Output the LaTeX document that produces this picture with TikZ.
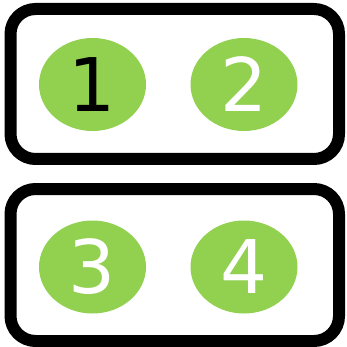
\documentclass[tikz,border=0pt]{standalone}
\usepackage{fontspec}
\newfontfamily\digitfont{DejaVu Sans}
\usetikzlibrary{shapes.geometric}
\definecolor{leafgreen}{HTML}{92D050}

\begin{document}
\begin{tikzpicture}[
    x=1pt, y=-1pt,
    panel/.style={rectangle, draw=black, line width=12pt, rounded corners=25pt,
        minimum width=328.5pt, inner sep=0pt},
    slot/.style={ellipse, fill=leafgreen, minimum width=107pt, minimum height=93pt,
        inner sep=0pt, font=\digitfont\fontsize{74}{74}\selectfont, text=white}
]
\useasboundingbox (0,0) rectangle (347,347);

\node[panel, minimum height=150pt] (top) at (174.75,84) {};
\node[panel, minimum height=152pt] (bottom) at (174.75,265) {};

\node[slot, text=black] (one) at (92.5,84.5) {1};
\node[slot] (two) at (244,84.5) {2};
\node[slot] (three) at (92.5,267) {3};
\node[slot] (four) at (244,267) {4};

\end{tikzpicture}
\end{document}
